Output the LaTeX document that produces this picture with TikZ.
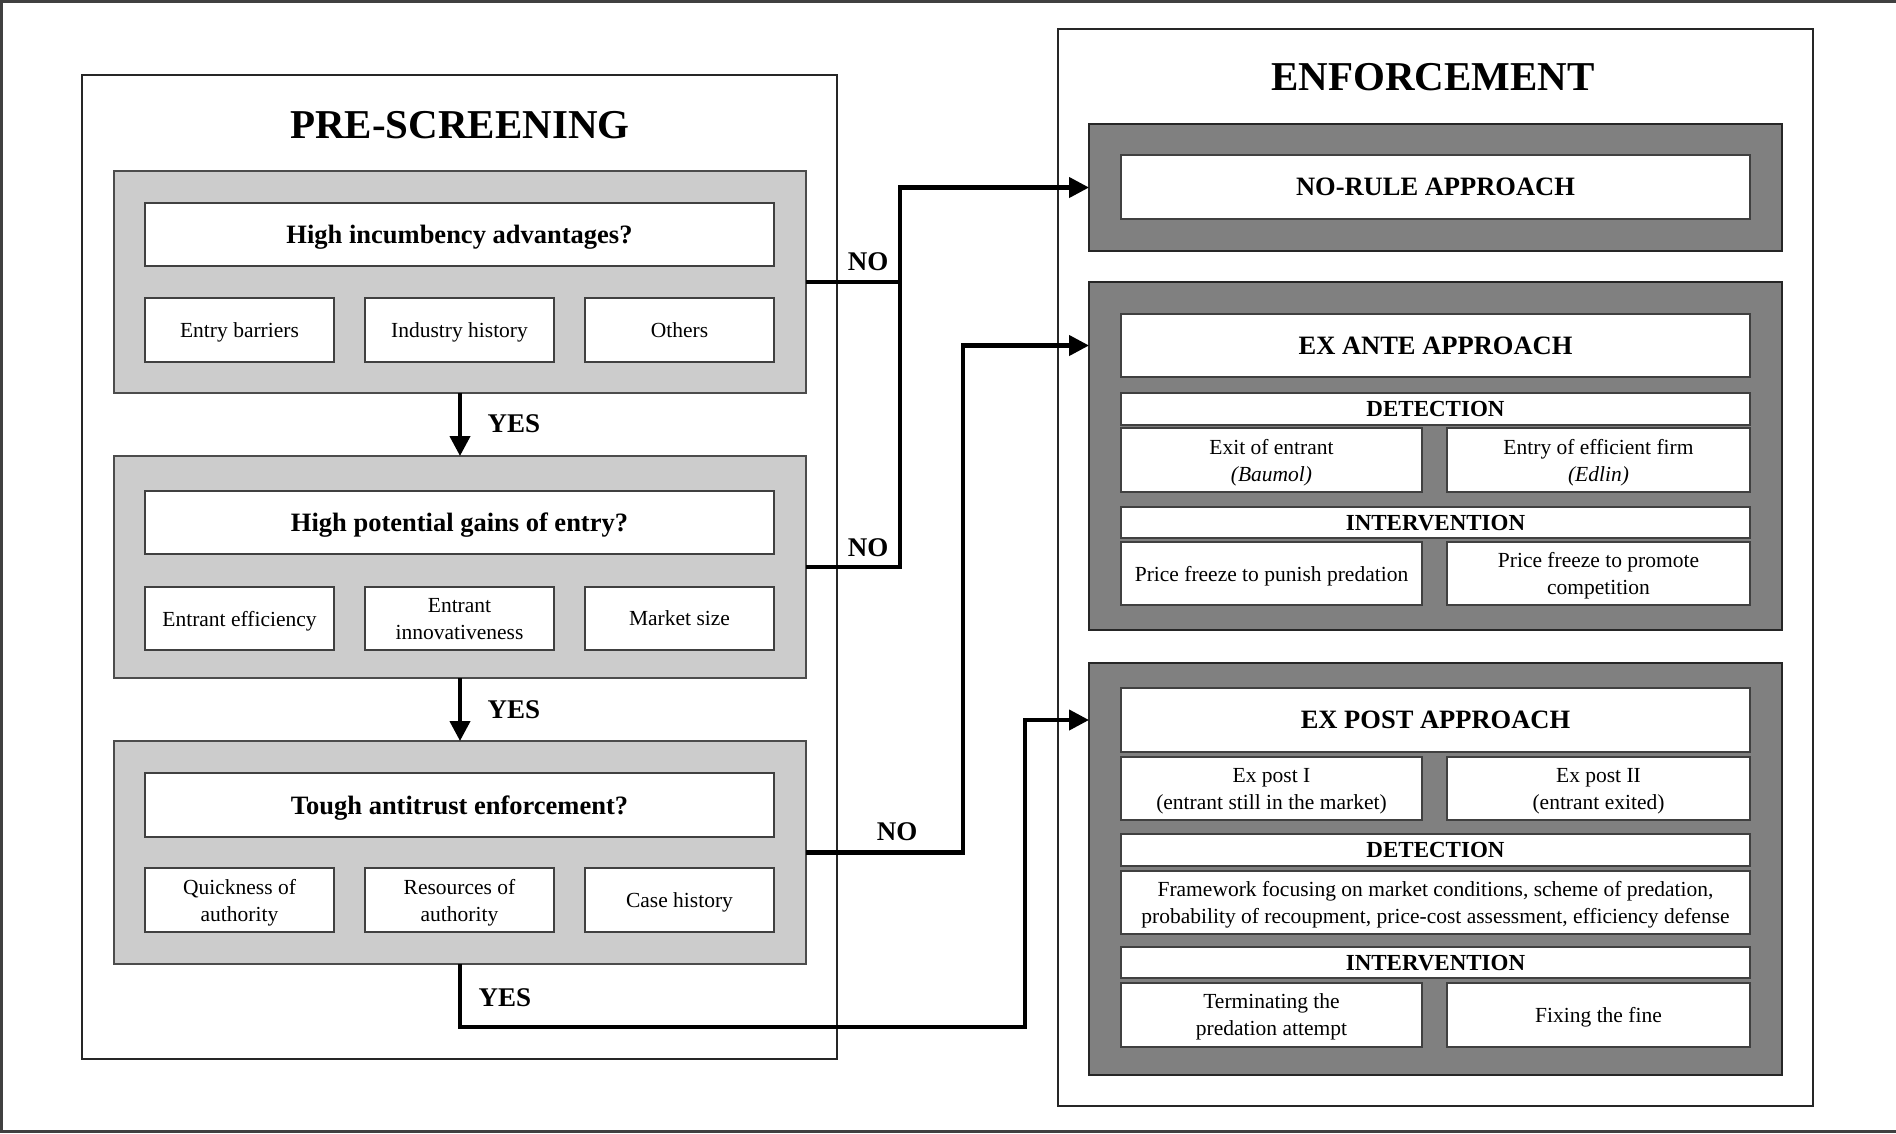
\documentclass[tikz,border=0pt]{standalone}
\usepackage{fontspec}
\setmainfont{Liberation Serif}
\usetikzlibrary{arrows.meta}
\newcommand\drawbox[7]{\node[#2, inner sep=0pt, outer sep=0pt, minimum width={#5pt-#3pt}, minimum height={#6pt-#4pt}, align=center] (#1) at ({(#3+#5)/2},{(#4+#6)/2}) {#7};}
\newcommand\ftitle{\fontsize{41}{47}\selectfont\bfseries}
\newcommand\fq{\fontsize{26.5}{31}\selectfont\bfseries}
\newcommand\fsub{\fontsize{21.5}{27}\selectfont}
\newcommand\fhead{\fontsize{23}{27}\selectfont\bfseries}
\newcommand\flab{\fontsize{27}{31}\selectfont\bfseries}
\tikzset{
  container/.style={draw=black!85, line width=1.5pt, fill=white},
  lgray/.style={draw=black!70, line width=1.5pt, fill=black!20},
  dgray/.style={draw=black!85, line width=1.5pt, fill=black!50},
  wq/.style={draw=black!75, line width=1.5pt, fill=white, font=\fq, text depth=0pt},
  wsub/.style={draw=black!75, line width=1.5pt, fill=white, font=\fsub, text depth=0pt},
  whead/.style={draw=black!75, line width=1.5pt, fill=white, font=\fhead, text depth=0pt},
  conn/.style={line width=4.2pt, draw=black},
  arr/.style={conn, -{Triangle[length=20pt,width=20pt]}},
  lab/.style={font=\flab, inner sep=0pt},
  ttl/.style={font=\ftitle, inner sep=0pt}
}
\begin{document}
\begin{tikzpicture}[x=1pt,y=-1pt]
\useasboundingbox (0,0) rectangle (1896,1133);
% outer frame (top, left, bottom)
\draw[line width=3pt, black!75] (0,1.5) -- (1896,1.5);
\draw[line width=3pt, black!75] (1.5,0) -- (1.5,1133);
\draw[line width=3pt, black!75] (0,1131) -- (1896,1131);

% containers
\drawbox{pre}{container}{82}{75}{837}{1059}{}
\drawbox{enf}{container}{1058}{29}{1813}{1106}{}
\node[ttl] (pretitle) at (460,125) {PRE-SCREENING};
\node[ttl] (enftitle) at (1433,77) {ENFORCEMENT};

% pre-screening gray boxes
\drawbox{g1}{lgray}{114}{171}{806}{393}{}
\drawbox{g2}{lgray}{114}{456}{806}{678}{}
\drawbox{g3}{lgray}{114}{741}{806}{964}{}

\drawbox{q1}{wq}{145}{203}{774}{266}{High incumbency advantages?}
\drawbox{s11}{wsub}{145}{298}{334}{362}{Entry barriers}
\drawbox{s12}{wsub}{365}{298}{554}{362}{Industry history}
\drawbox{s13}{wsub}{585}{298}{774}{362}{Others}

\drawbox{q2}{wq}{145}{491}{774}{554}{High potential gains of entry?}
\drawbox{s21}{wsub}{145}{587}{334}{650}{Entrant efficiency}
\drawbox{s22}{wsub}{365}{587}{554}{650}{Entrant\\innovativeness}
\drawbox{s23}{wsub}{585}{587}{774}{650}{Market size}

\drawbox{q3}{wq}{145}{773}{774}{837}{Tough antitrust enforcement?}
\drawbox{s31}{wsub}{145}{868}{334}{932}{Quickness of\\authority}
\drawbox{s32}{wsub}{365}{868}{554}{932}{Resources of\\authority}
\drawbox{s33}{wsub}{585}{868}{774}{932}{Case history}

% enforcement dark boxes
\drawbox{d1}{dgray}{1089}{124}{1782}{251}{}
\drawbox{d2}{dgray}{1089}{282}{1782}{630}{}
\drawbox{d3}{dgray}{1089}{663}{1782}{1075}{}

\drawbox{nr}{wq}{1121}{155}{1750}{219}{NO-RULE APPROACH}

\drawbox{ea}{wq}{1121}{314}{1750}{377}{EX ANTE APPROACH}
\drawbox{eadet}{whead}{1121}{393}{1750}{425}{DETECTION}
\drawbox{ea1}{wsub}{1121}{428}{1422}{492}{Exit of entrant\\\textit{(Baumol)}}
\drawbox{ea2}{wsub}{1447}{428}{1750}{492}{Entry of efficient firm\\\textit{(Edlin)}}
\drawbox{eaint}{whead}{1121}{507}{1750}{538}{INTERVENTION}
\drawbox{ea3}{wsub}{1121}{542}{1422}{605}{Price freeze to punish predation}
\drawbox{ea4}{wsub}{1447}{542}{1750}{605}{Price freeze to promote\\competition}

\drawbox{ep}{wq}{1121}{688}{1750}{752}{EX POST APPROACH}
\drawbox{ep1}{wsub}{1121}{757}{1422}{820}{Ex post I\\(entrant still in the market)}
\drawbox{ep2}{wsub}{1447}{757}{1750}{820}{Ex post II\\(entrant exited)}
\drawbox{epdet}{whead}{1121}{834}{1750}{866}{DETECTION}
\drawbox{epfw}{wsub}{1121}{871}{1750}{934}{Framework focusing on market conditions, scheme of predation,\\probability of recoupment, price-cost assessment, efficiency defense}
\drawbox{epint}{whead}{1121}{947}{1750}{978}{INTERVENTION}
\drawbox{ep3}{wsub}{1121}{983}{1422}{1047}{Terminating the\\predation attempt}
\drawbox{ep4}{wsub}{1447}{983}{1750}{1047}{Fixing the fine}

% connectors
\coordinate (vA) at (900,187);
\coordinate (vB) at (963,343);
\coordinate (vC) at (1025,1027);

\draw[arr] (g1.south) -- (g2.north);
\draw[arr] (g2.south) -- (g3.north);
\draw[conn] (g1.east) -- (g1.east -| vA);
\draw[arr] (g2.east) -- (g2.east -| vA) |- (d1.west);
\draw[arr] (g3.east) -- (g3.east -| vB) |- (d2.west |- ea.center);
\draw[arr] (g3.south) |- (vC) |- (d3.west |- ep.center);

% labels
\node[lab] (no1) at (868,262) {NO};
\node[lab] (no2) at (868,548) {NO};
\node[lab] (no3) at (897,832) {NO};
\node[lab] (yes1) at (514,424) {YES};
\node[lab] (yes2) at (514,710) {YES};
\node[lab] (yes3) at (505,998) {YES};
\end{tikzpicture}
\end{document}
